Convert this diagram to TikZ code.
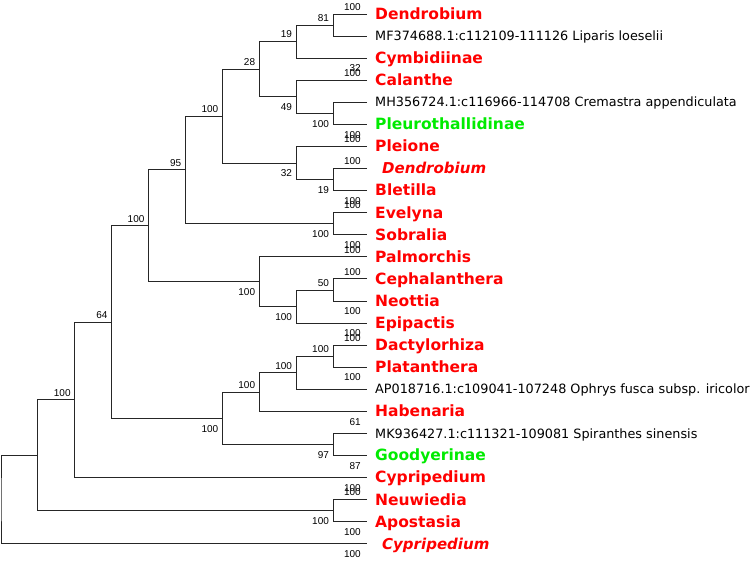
\documentclass[tikz,border=0pt]{standalone}
\usepackage{fontspec}
\setmainfont{Liberation Sans}
\newfontfamily\taxfont{DejaVu Sans}
\definecolor{taxred}{RGB}{255,0,0}
\definecolor{taxgreen}{RGB}{0,235,0}
\tikzset{
	br/.style={draw=black!85,line width=1pt},
	tax/.style={anchor=base west,inner sep=0pt,font=\taxfont\bfseries\fontsize{15.5}{16}\selectfont,text=taxred,xshift=8pt,yshift=-5.3pt},
	taxg/.style={tax,text=taxgreen},
	taxi/.style={tax,font=\taxfont\bfseries\itshape\fontsize{15}{16}\selectfont,xshift=7pt},
	acc/.style={anchor=base west,inner sep=0pt,font=\taxfont\fontsize{12.8}{14}\selectfont,xshift=8pt,yshift=-4.6pt},
	bsup/.style={anchor=south east,inner sep=0pt,font=\fontsize{10}{11}\selectfont,xshift=-4pt,yshift=3.5pt},
	bsdn/.style={anchor=north east,inner sep=0pt,font=\fontsize{10}{11}\selectfont,xshift=-4pt,yshift=-6.5pt},
	lfup/.style={bsup,xshift=-2pt},
	lfdn/.style={bsdn,xshift=-2pt}
}
\begin{document}
\begin{tikzpicture}[x=1pt,y=-1pt]
\useasboundingbox (0,0) rectangle (751,560);
\begin{scope}[shift={(1,14)}]
	\pgfmathsetmacro{\ul}{36.9}
	\pgfmathsetmacro{\vl}{22.08}
	\pgfmathsetmacro{\tip}{366}
	% leaf tips
	\coordinate (l0) at (\tip,0*\vl);
	\coordinate (l1) at (\tip,1*\vl);
	\coordinate (l2) at (\tip,2*\vl);
	\coordinate (l3) at (\tip,3*\vl);
	\coordinate (l4) at (\tip,4*\vl);
	\coordinate (l5) at (\tip,5*\vl);
	\coordinate (l6) at (\tip,6*\vl);
	\coordinate (l7) at (\tip,7*\vl);
	\coordinate (l8) at (\tip,8*\vl);
	\coordinate (l9) at (\tip,9*\vl);
	\coordinate (l10) at (\tip,10*\vl);
	\coordinate (l11) at (\tip,11*\vl);
	\coordinate (l12) at (\tip,12*\vl);
	\coordinate (l13) at (\tip,13*\vl);
	\coordinate (l14) at (\tip,14*\vl);
	\coordinate (l15) at (\tip,15*\vl);
	\coordinate (l16) at (\tip,16*\vl);
	\coordinate (l17) at (\tip,17*\vl);
	\coordinate (l18) at (\tip,18*\vl);
	\coordinate (l19) at (\tip,19*\vl);
	\coordinate (l20) at (\tip,20*\vl);
	\coordinate (l21) at (\tip,21*\vl);
	\coordinate (l22) at (\tip,22*\vl);
	\coordinate (l23) at (\tip,23*\vl);
	\coordinate (l24) at (\tip,24*\vl);
	% inner nodes
	\coordinate (n81) at (9*\ul,0.5*\vl);
	\coordinate (n19a) at (8*\ul,1.25*\vl);
	\coordinate (n100a) at (9*\ul,4.5*\vl);
	\coordinate (n49) at (8*\ul,3.75*\vl);
	\coordinate (n28) at (7*\ul,2.5*\vl);
	\coordinate (n19b) at (9*\ul,7.5*\vl);
	\coordinate (n32) at (8*\ul,6.75*\vl);
	\coordinate (n100b) at (6*\ul,4.625*\vl);
	\coordinate (n100c) at (9*\ul,9.5*\vl);
	\coordinate (n95) at (5*\ul,7.0625*\vl);
	\coordinate (n50) at (9*\ul,12.5*\vl);
	\coordinate (n100d) at (8*\ul,13.25*\vl);
	\coordinate (n100e) at (7*\ul,12.125*\vl);
	\coordinate (n100f) at (4*\ul,9.59375*\vl);
	\coordinate (n100g) at (9*\ul,15.5*\vl);
	\coordinate (n100h) at (8*\ul,16.25*\vl);
	\coordinate (n100i) at (7*\ul,17.125*\vl);
	\coordinate (n97) at (9*\ul,19.5*\vl);
	\coordinate (n100j) at (6*\ul,18.3125*\vl);
	\coordinate (n64) at (3*\ul,13.953*\vl);
	\coordinate (n100k) at (2*\ul,17.477*\vl);
	\coordinate (n100l) at (9*\ul,22.5*\vl);
	\coordinate (nA) at (1*\ul,19.988*\vl);
	\coordinate (root) at (0,21.994*\vl);
	% branches
	\draw[br] (l0) -| (n81) |- (l1);
	\draw[br] (n81) -| (n19a) |- (l2);
	\draw[br] (l4) -| (n100a) |- (l5);
	\draw[br] (l3) -| (n49) |- (n100a);
	\draw[br] (n19a) -| (n28) |- (n49);
	\draw[br] (l7) -| (n19b) |- (l8);
	\draw[br] (l6) -| (n32) |- (n19b);
	\draw[br] (n28) -| (n100b) |- (n32);
	\draw[br] (l9) -| (n100c) |- (l10);
	\draw[br] (n100b) -| (n95) |- (n100c);
	\draw[br] (l12) -| (n50) |- (l13);
	\draw[br] (n50) -| (n100d) |- (l14);
	\draw[br] (l11) -| (n100e) |- (n100d);
	\draw[br] (n95) -| (n100f) |- (n100e);
	\draw[br] (l15) -| (n100g) |- (l16);
	\draw[br] (n100g) -| (n100h) |- (l17);
	\draw[br] (n100h) -| (n100i) |- (l18);
	\draw[br] (l19) -| (n97) |- (l20);
	\draw[br] (n100i) -| (n100j) |- (n97);
	\draw[br] (n100f) -| (n64) |- (n100j);
	\draw[br] (n64) -| (n100k) |- (l21);
	\draw[br] (l22) -| (n100l) |- (l23);
	\draw[br] (n100k) -| (nA) |- (n100l);
	\draw[br] (nA) -| (root) |- (l24);
	% bootstrap values
	\node[bsup] (b81) at (n81) {81};
	\node[bsup] (b19a) at (n19a) {19};
	\node[bsdn] (b100a) at (n100a) {100};
	\node[bsdn] (b49) at (n49) {49};
	\node[bsup] (b28) at (n28) {28};
	\node[bsdn] (b19b) at (n19b) {19};
	\node[bsdn] (b32) at (n32) {32};
	\node[bsup] (b100b) at (n100b) {100};
	\node[bsdn] (b100c) at (n100c) {100};
	\node[bsup] (b95) at (n95) {95};
	\node[bsup] (b50) at (n50) {50};
	\node[bsdn] (b100d) at (n100d) {100};
	\node[bsdn] (b100e) at (n100e) {100};
	\node[bsup] (b100f) at (n100f) {100};
	\node[bsup] (b100g) at (n100g) {100};
	\node[bsup] (b100h) at (n100h) {100};
	\node[bsup] (b100i) at (n100i) {100};
	\node[bsdn] (b97) at (n97) {97};
	\node[bsdn] (b100j) at (n100j) {100};
	\node[bsup] (b64) at (n64) {64};
	\node[bsup] (b100k) at (n100k) {100};
	\node[bsdn] (b100l) at (n100l) {100};
	% values at the tips
	\node[lfup] (v0) at (l0) {100};
	\node[lfdn] (v2) at (l2) {32};
	\node[lfup] (v3) at (l3) {100};
	\node[lfdn] (v5) at (l5) {100};
	\node[lfup] (v6) at (l6) {100};
	\node[lfup] (v7) at (l7) {100};
	\node[lfdn] (v8) at (l8) {100};
	\node[lfup] (v9) at (l9) {100};
	\node[lfdn] (v10) at (l10) {100};
	\node[lfup] (v11) at (l11) {100};
	\node[lfup] (v12) at (l12) {100};
	\node[lfdn] (v13) at (l13) {100};
	\node[lfdn] (v14) at (l14) {100};
	\node[lfup] (v15) at (l15) {100};
	\node[lfdn] (v16) at (l16) {100};
	\node[lfdn] (v18) at (l18) {61};
	\node[lfdn] (v20) at (l20) {87};
	\node[lfdn] (v21) at (l21) {100};
	\node[lfup] (v22) at (l22) {100};
	\node[lfdn] (v23) at (l23) {100};
	\node[lfdn] (v24) at (l24) {100};
	% taxa
	\node[tax] (t0) at (l0) {Dendrobium};
	\node[acc] (t1) at (l1) {MF374688.1:c112109-111126 Liparis loeselii};
	\node[tax] (t2) at (l2) {Cymbidiinae};
	\node[tax] (t3) at (l3) {Calanthe};
	\node[acc] (t4) at (l4) {MH356724.1:c116966-114708 Cremastra appendiculata};
	\node[taxg] (t5) at (l5) {Pleurothallidinae};
	\node[tax] (t6) at (l6) {Pleione};
	\node[taxi] (t7) at (l7) {Dendrobium};
	\node[tax] (t8) at (l8) {Bletilla};
	\node[tax] (t9) at (l9) {Evelyna};
	\node[tax] (t10) at (l10) {Sobralia};
	\node[tax] (t11) at (l11) {Palmorchis};
	\node[tax] (t12) at (l12) {Cephalanthera};
	\node[tax] (t13) at (l13) {Neottia};
	\node[tax] (t14) at (l14) {Epipactis};
	\node[tax] (t15) at (l15) {Dactylorhiza};
	\node[tax] (t16) at (l16) {Platanthera};
	\node[acc] (t17) at (l17) {AP018716.1:c109041-107248 Ophrys fusca subsp. iricolor};
	\node[tax] (t18) at (l18) {Habenaria};
	\node[acc] (t19) at (l19) {MK936427.1:c111321-109081 Spiranthes sinensis};
	\node[taxg] (t20) at (l20) {Goodyerinae};
	\node[tax] (t21) at (l21) {Cypripedium};
	\node[tax] (t22) at (l22) {Neuwiedia};
	\node[tax] (t23) at (l23) {Apostasia};
	\node[taxi] (t24) at (l24) {Cypripedium};
\end{scope}
\end{tikzpicture}
\end{document}
